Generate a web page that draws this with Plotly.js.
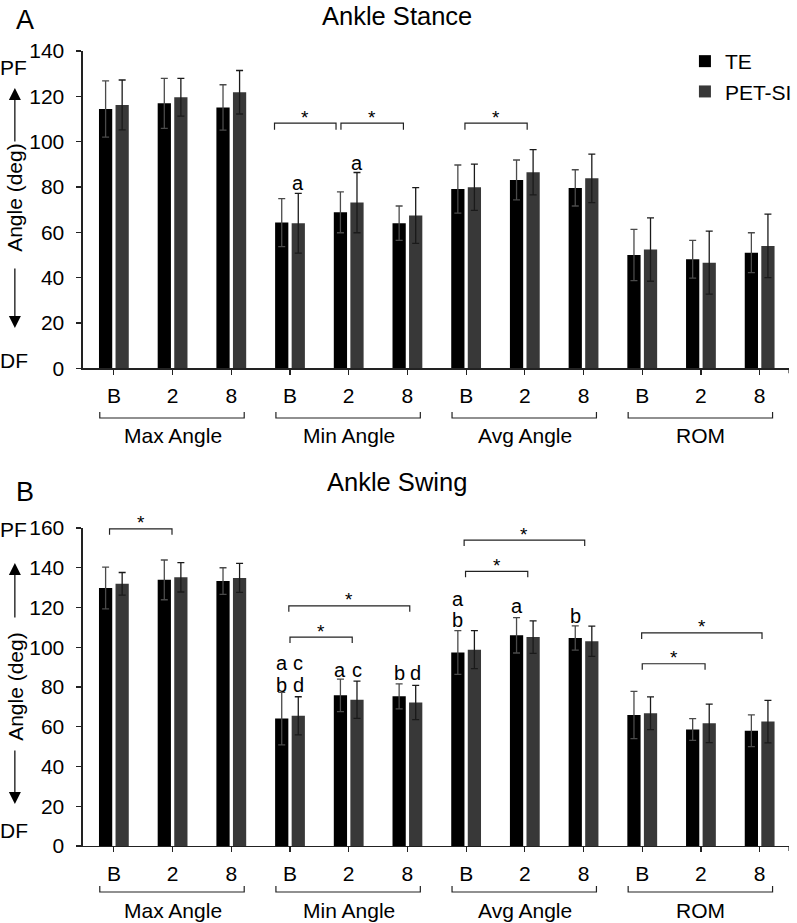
<!DOCTYPE html>
<html><head><meta charset="utf-8">
<script src="https://cdn.plot.ly/plotly-3.0.1.min.js"></script>
<style>html,body{margin:0;padding:0;background:#fff}#chart{width:797px;height:923px}</style>
</head><body><div id="chart"></div>
<script>
// ---------- data ----------
const tickLabels = ['B','2','8','B','2','8','B','2','8','B','2','8'];
const groupLabels = ['Max Angle','Min Angle','Avg Angle','ROM'];
const seriesNames = ['TE','PET-SI'];

const stanceTE     = [114.4, 116.9, 115.1, 64.3, 68.8, 64.0, 79.1, 83.1, 79.6, 50.0, 48.1, 51.0];
const stanceTE_sd  = [12.4, 11.0, 10.0, 10.6, 9.0, 7.6, 10.6, 8.8, 8.0, 11.3, 8.3, 8.8];
const stancePET    = [116.2, 119.6, 121.8, 64.0, 73.1, 67.4, 79.9, 86.5, 83.8, 52.4, 46.6, 54.0];
const stancePET_sd = [11.0, 8.3, 9.6, 13.2, 13.3, 12.3, 10.2, 10.0, 10.7, 14.0, 13.9, 14.0];

const swingTE      = [129.8, 133.9, 133.3, 64.1, 75.8, 75.3, 97.4, 106.0, 104.7, 65.9, 58.6, 58.0];
const swingTE_sd   = [10.5, 10.0, 6.7, 13.2, 8.2, 6.3, 11.0, 8.9, 6.1, 11.9, 5.5, 8.0];
const swingPET     = [131.9, 135.2, 134.9, 65.5, 73.6, 72.2, 98.8, 105.1, 103.0, 66.8, 61.7, 62.6];
const swingPET_sd  = [5.7, 7.4, 7.3, 9.6, 9.4, 8.6, 9.6, 8.2, 7.6, 8.2, 9.7, 10.7];

// significance brackets: [fromCategory, toCategory, value]
const stanceSig = [[2.736, 3.784, 108.2], [3.868, 4.932, 108.2], [5.98, 7.04, 108.2]];
const swingSig  = [[-0.074, 0.99, 159.6], [2.98, 5.04, 120.8], [3.0, 4.06, 105.1],
                   [5.966, 8.02, 153.9], [5.99, 7.05, 138.2], [8.99, 11.04, 107.2], [9.0, 10.07, 91.7]];
// letter marks: [category, series(0 TE / 1 PET), value, text]
const stanceLetters = [[3, 1, 81.7, 'a'], [4, 1, 90.5, 'a']];
const swingLetters  = [[3, 0, 92, 'a'], [3, 0, 81, 'b'], [3, 1, 92, 'c'], [3, 1, 81, 'd'],
                       [4, 0, 88.5, 'a'], [4, 1, 88.5, 'c'], [5, 0, 86.8, 'b'], [5, 1, 86.8, 'd'],
                       [6, 0, 124.2, 'a'], [6, 0, 113.5, 'b'], [7, 0, 120.8, 'a'], [8, 0, 115.9, 'b']];

// ---------- layout helpers ----------
const W = 797, H = 923;
const PX = v => v / W;           // pixel -> paper x
const PY = v => 1 - v / H;       // pixel -> paper y
const FONT = 'Liberation Sans, Arial, sans-serif';
const xs = tickLabels.map((_, i) => i);
const barColors = ['#000000', '#383838'];
const errColors = ['#4a4a4a', '#1a1a1a'];
const barOff = 0.141;

function barTrace(name, vals, sd, idx, xa, ya, showleg) {
  return {
    type: 'bar', name: name, x: xs, y: vals, xaxis: xa, yaxis: ya,
    marker: {color: barColors[idx], line: {width: 0}},
    error_y: {type: 'data', array: sd, visible: true, color: errColors[idx], thickness: 1.3, width: 3.5},
    showlegend: showleg, legendgroup: name, hoverinfo: 'x+y'
  };
}

const traces = [
  barTrace(seriesNames[0], stanceTE, stanceTE_sd, 0, 'x', 'y', true),
  barTrace(seriesNames[1], stancePET, stancePET_sd, 1, 'x', 'y', true),
  barTrace(seriesNames[0], swingTE, swingTE_sd, 0, 'x2', 'y2', false),
  barTrace(seriesNames[1], swingPET, swingPET_sd, 1, 'x2', 'y2', false)
];

const shapes = [];
const annotations = [];
const lineStyle = {color: '#222', width: 1.2};

function sigBrackets(list, xr, yr, drop) {
  list.forEach(([a, b, v]) => {
    shapes.push({type: 'path', xref: xr, yref: yr,
      path: `M${a},${v - drop} L${a},${v} L${b},${v} L${b},${v - drop}`, line: lineStyle});
    annotations.push({xref: xr, yref: yr, x: (a + b) / 2, y: v, text: '*', showarrow: false,
      yanchor: 'middle', yshift: 6, font: {family: FONT, size: 19, color: '#000'}});
  });
}
function letters(list, xr, yr) {
  list.forEach(([c, s, v, t]) => {
    annotations.push({xref: xr, yref: yr, x: c + (s === 0 ? -barOff : barOff), y: v, text: t,
      showarrow: false, yanchor: 'middle', font: {family: FONT, size: 20, color: '#000'}});
  });
}
function groupBrackets(xr, yLine, yTop, yLabel) {
  groupLabels.forEach((g, k) => {
    const a = 3 * k - 0.24, b = 3 * k + 2.22;
    shapes.push({type: 'path', xref: xr, yref: 'paper',
      path: `M${a},${PY(yTop)} L${a},${PY(yLine)} L${b},${PY(yLine)} L${b},${PY(yTop)}`, line: lineStyle});
    annotations.push({xref: xr, yref: 'paper', x: 3 * k + 1, y: PY(yLabel), text: g, showarrow: false,
      yanchor: 'middle', font: {family: FONT, size: 21, color: '#000'}});
  });
}
function axisEndTick(xr, yAxisPx) {
  shapes.push({type: 'line', xref: xr, yref: 'paper', x0: 11.5, x1: 11.5,
    y0: PY(yAxisPx), y1: PY(yAxisPx + 5), line: lineStyle});
}
function sideLabels(pf, df, mid, upTail, upHead, downTail, downHead) {
  const f = {family: FONT, size: 21, color: '#000'};
  annotations.push({xref: 'paper', yref: 'paper', x: PX(-2), y: PY(pf), text: 'PF', showarrow: false, xanchor: 'left', yanchor: 'middle', font: f});
  annotations.push({xref: 'paper', yref: 'paper', x: PX(-2), y: PY(df), text: 'DF', showarrow: false, xanchor: 'left', yanchor: 'middle', font: f});
  annotations.push({xref: 'paper', yref: 'paper', x: PX(15), y: PY(mid), text: 'Angle (deg)', textangle: -90,
    showarrow: false, xanchor: 'center', yanchor: 'middle', font: f});
  [[upTail, upHead], [downTail, downHead]].forEach(([t, h]) => {
    annotations.push({xref: 'paper', yref: 'paper', x: PX(15), y: PY(h), ax: 0, ay: t - h, text: '',
      showarrow: true, arrowhead: 2, arrowsize: 2, arrowwidth: 1.2, arrowcolor: '#000'});
  });
}

sigBrackets(stanceSig, 'x', 'y', 3.0);
sigBrackets(swingSig, 'x2', 'y2', 3.0);
letters(stanceLetters, 'x', 'y');
letters(swingLetters, 'x2', 'y2');
groupBrackets('x', 418, 412, 435);
groupBrackets('x2', 892, 886, 910);
axisEndTick('x', 368.3);
axisEndTick('x2', 846);
sideLabels(67, 360, 197, 143, 88, 267, 328);
sideLabels(529, 830, 686, 619, 563, 749, 804);

// titles and panel letters
annotations.push({xref: 'paper', yref: 'paper', x: PX(401), y: 1, text: 'Ankle Stance', showarrow: false,
  yanchor: 'top', font: {family: FONT, size: 25.5, color: '#000'}});
annotations.push({xref: 'paper', yref: 'paper', x: PX(401), y: PY(482), text: 'Ankle Swing', showarrow: false,
  yanchor: 'middle', font: {family: FONT, size: 25.5, color: '#000'}});
annotations.push({xref: 'paper', yref: 'paper', x: PX(14.5), y: PY(20), text: 'A', showarrow: false,
  yanchor: 'middle', font: {family: FONT, size: 27, color: '#000'}});
annotations.push({xref: 'paper', yref: 'paper', x: PX(14), y: PY(492), text: 'B', showarrow: false,
  yanchor: 'middle', font: {family: FONT, size: 27, color: '#000'}});

const xDom = [PX(83.5), PX(796)];
const xBase = {
  domain: xDom, range: [-0.53, 11.5], tickmode: 'array', tickvals: xs, ticktext: tickLabels,
  showline: true, linecolor: '#222', linewidth: 1.3, ticks: 'outside', ticklen: 5, tickcolor: '#222',
  tickwidth: 1.2, showgrid: false, zeroline: false, ticklabelstandoff: 3,
  tickfont: {family: FONT, size: 21, color: '#000'}, fixedrange: true
};
const yBase = {
  showline: true, linecolor: '#222', linewidth: 1.3, ticks: 'outside', ticklen: 5, tickcolor: '#222',
  tickwidth: 1.2, showgrid: false, zeroline: false, dtick: 20, ticklabelstandoff: 8,
  tickfont: {family: FONT, size: 21, color: '#000'}, fixedrange: true
};

const layout = {
  width: W, height: H, margin: {l: 0, r: 0, t: 0, b: 0},
  paper_bgcolor: '#fff', plot_bgcolor: 'rgba(0,0,0,0)',
  font: {family: FONT, color: '#000'},
  barmode: 'group', bargap: 0.436, bargroupgap: 0.2,
  xaxis: Object.assign({}, xBase, {anchor: 'y'}),
  yaxis: Object.assign({}, yBase, {anchor: 'x', domain: [PY(368.3), PY(51)], range: [0, 140]}),
  xaxis2: Object.assign({}, xBase, {anchor: 'y2'}),
  yaxis2: Object.assign({}, yBase, {anchor: 'x2', domain: [PY(846), PY(528)], range: [0, 160]}),
  showlegend: true,
  legend: {x: PX(691), y: PY(41), xanchor: 'left', yanchor: 'top', bgcolor: 'rgba(0,0,0,0)',
    font: {family: FONT, size: 21, color: '#000'}, traceorder: 'normal', tracegroupgap: 2},
  shapes: shapes, annotations: annotations
};

Plotly.newPlot('chart', traces, layout, {displayModeBar: false, staticPlot: true});
</script>
</body></html>
